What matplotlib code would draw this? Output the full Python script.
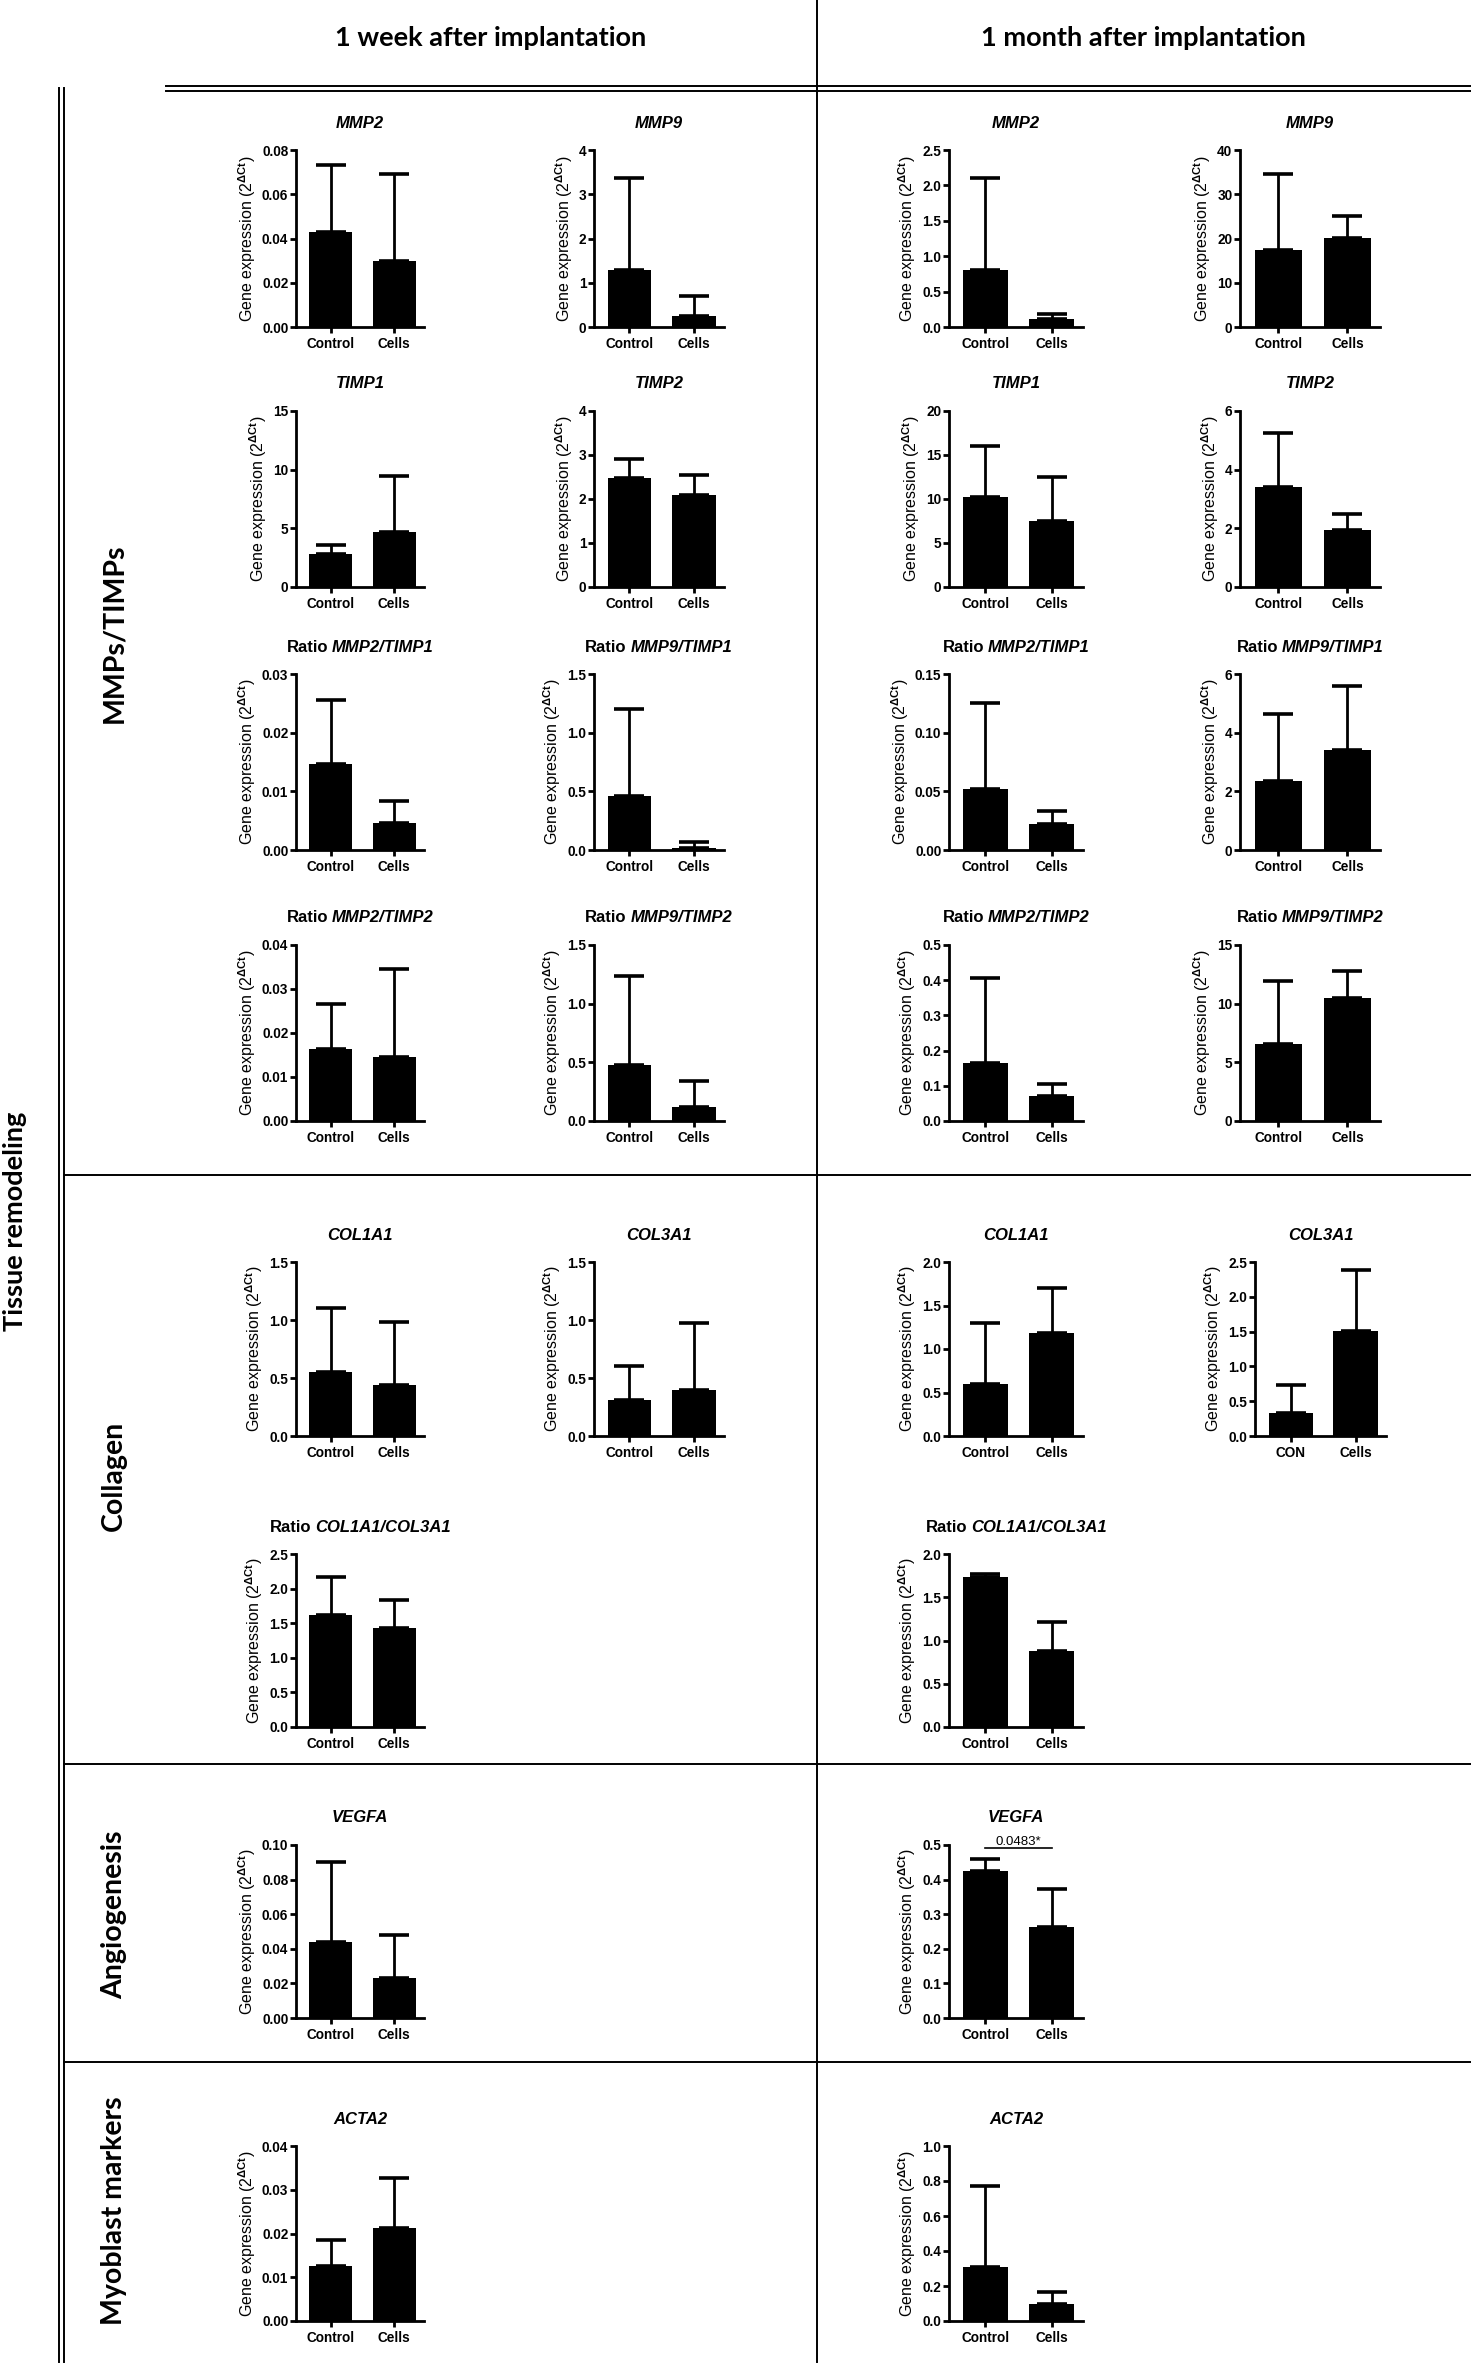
import matplotlib
matplotlib.use("Agg")
import matplotlib.pyplot as plt
from matplotlib.lines import Line2D
from matplotlib.ticker import FormatStrFormatter
import numpy as np

W, H = 1471, 2366

plt.rcParams.update({
    "font.family": ["Liberation Sans", "DejaVu Sans"],
    "font.weight": "bold",
    "mathtext.fontset": "custom",
    "mathtext.rm": "Liberation Sans:bold",
    "mathtext.it": "Liberation Sans:bold:italic",
    "mathtext.bf": "Liberation Sans:bold",
    "mathtext.default": "rm",
})

# ---------------- data ----------------
panel_prefix = ["", "", "", "",
                "", "", "", "",
                "Ratio", "Ratio", "Ratio", "Ratio",
                "Ratio", "Ratio", "Ratio", "Ratio",
                "", "", "", "",
                "Ratio", "Ratio",
                "", "",
                "", ""]
panel_gene = ["MMP2", "MMP9", "MMP2", "MMP9",
              "TIMP1", "TIMP2", "TIMP1", "TIMP2",
              "MMP2/TIMP1", "MMP9/TIMP1", "MMP2/TIMP1", "MMP9/TIMP1",
              "MMP2/TIMP2", "MMP9/TIMP2", "MMP2/TIMP2", "MMP9/TIMP2",
              "COL1A1", "COL3A1", "COL1A1", "COL3A1",
              "COL1A1/COL3A1", "COL1A1/COL3A1",
              "VEGFA", "VEGFA",
              "ACTA2", "ACTA2"]
control_label = ["Control"] * 19 + ["CON"] + ["Control"] * 6
cells_label = ["Cells"] * 26

control_mean = [0.043, 1.28, 0.81, 17.5,
                2.8, 2.48, 10.2, 3.4,
                0.0147, 0.46, 0.052, 2.35,
                0.0163, 0.48, 0.165, 6.6,
                0.55, 0.31, 0.60, 0.33,
                1.62, 1.73,
                0.044, 0.425,
                0.0125, 0.31]
control_sd = [0.030, 2.09, 1.30, 17.0,
              0.75, 0.42, 5.8, 1.85,
              0.0108, 0.74, 0.073, 2.28,
              0.0104, 0.76, 0.242, 5.35,
              0.55, 0.29, 0.70, 0.40,
              0.55, 0.04,
              0.046, 0.035,
              0.0061, 0.46]
cells_mean = [0.030, 0.25, 0.12, 20.2,
              4.7, 2.10, 7.5, 1.95,
              0.0046, 0.02, 0.022, 3.42,
              0.0145, 0.12, 0.070, 10.5,
              0.44, 0.40, 1.18, 1.51,
              1.43, 0.88,
              0.023, 0.262,
              0.0213, 0.10]
cells_sd = [0.039, 0.44, 0.06, 4.9,
            4.8, 0.44, 5.0, 0.55,
            0.0038, 0.045, 0.011, 2.18,
            0.020, 0.22, 0.035, 2.25,
            0.54, 0.57, 0.52, 0.88,
            0.40, 0.33,
            0.025, 0.11,
            0.0114, 0.065]
y_max = [0.08, 4, 2.5, 40,
         15, 4, 20, 6,
         0.03, 1.5, 0.15, 6,
         0.04, 1.5, 0.5, 15,
         1.5, 1.5, 2.0, 2.5,
         2.5, 2.0,
         0.10, 0.5,
         0.04, 1.0]
y_step = [0.02, 1, 0.5, 10,
          5, 1, 5, 2,
          0.01, 0.5, 0.05, 2,
          0.01, 0.5, 0.1, 5,
          0.5, 0.5, 0.5, 0.5,
          0.5, 0.5,
          0.02, 0.1,
          0.01, 0.2]
y_decimals = [2, 0, 1, 0,
              0, 0, 0, 0,
              2, 1, 2, 0,
              2, 1, 1, 0,
              1, 1, 1, 1,
              1, 1,
              2, 1,
              2, 1]
pvalue_text = "0.0483*"
pvalue_panel = 23
pvalue_y = 0.49

# ---------------- layout ----------------
slots = [(1, 1), (1, 2), (1, 3), (1, 4),
         (2, 1), (2, 2), (2, 3), (2, 4),
         (3, 1), (3, 2), (3, 3), (3, 4),
         (4, 1), (4, 2), (4, 3), (4, 4),
         (5, 1), (5, 2), (5, 3), (5, 4),
         (6, 1), (6, 3),
         (7, 1), (7, 3),
         (8, 1), (8, 3)]
row_bounds = {1: (150, 327), 2: (411, 587), 3: (674, 850), 4: (945, 1121),
              5: (1262, 1436), 6: (1554, 1727), 7: (1845, 2018), 8: (2146, 2321)}
col_bounds = {1: (296, 128), 2: (594, 130), 3: (949, 134), 4: (1240, 140)}

fig = plt.figure(figsize=(W / 100, H / 100), dpi=100)


def fx(x):
    return x / W


def fy(y):
    return 1 - y / H


renderer = fig.canvas.get_renderer()

for i in range(len(panel_gene)):
    r, c = slots[i]
    top, bot = row_bounds[r]
    left, width = col_bounds[c]
    if (r, c) == (5, 4):
        left, width = 1255, 131
    ax = fig.add_axes([fx(left), fy(bot), width / W, (bot - top) / H])
    xs = [0, 1]
    means = [control_mean[i], cells_mean[i]]
    sds = [control_sd[i], cells_sd[i]]
    ax.bar(xs, means, width=0.68, color="black", edgecolor="black",
           linewidth=0, zorder=2)
    ax.errorbar(xs, means, yerr=[[0, 0], sds], fmt="none", ecolor="black",
                elinewidth=2.0, capsize=11, capthick=2.6, zorder=3)
    ax.set_xlim(-0.55, 1.47)
    ax.set_ylim(0, y_max[i])
    ax.set_yticks(np.arange(0, y_max[i] + y_step[i] / 2, y_step[i]))
    ax.yaxis.set_major_formatter(FormatStrFormatter("%%.%df" % y_decimals[i]))
    ax.set_xticks(xs)
    ax.set_xticklabels([control_label[i], cells_label[i]])
    for s in ("top", "right"):
        ax.spines[s].set_visible(False)
    for s in ("left", "bottom"):
        ax.spines[s].set_linewidth(2.0)
    ax.tick_params(axis="y", length=4, width=2, labelsize=9.8, pad=1.5)
    ax.tick_params(axis="x", length=4, width=2, labelsize=9.8, pad=3)
    ax.set_ylabel(r"Gene expression (2$^{\Delta Ct}$)", fontsize=11.5,
                  labelpad=3)

    # title
    cx = left + width / 2
    ty = top - 27
    if panel_prefix[i]:
        t1 = fig.text(0, fy(ty), panel_prefix[i], fontsize=12, fontweight="bold",
                      ha="left", va="center")
        t2 = fig.text(0, fy(ty), panel_gene[i], fontsize=12, fontweight="bold",
                      style="italic", ha="left", va="center")
        w1 = t1.get_window_extent(renderer).width
        w2 = t2.get_window_extent(renderer).width
        gap = 4
        x0 = cx - (w1 + gap + w2) / 2
        t1.set_x(fx(x0))
        t2.set_x(fx(x0 + w1 + gap))
    else:
        fig.text(fx(cx), fy(ty), panel_gene[i], fontsize=12, fontweight="bold",
                 style="italic", ha="center", va="center")

    if i == pvalue_panel:
        ax.plot(xs, [pvalue_y, pvalue_y], color="black", lw=1.2,
                clip_on=False, zorder=4)
        ax.text(0.5, pvalue_y, pvalue_text, ha="center", va="bottom",
                fontsize=9.5, fontweight="normal", clip_on=False)

# ---------------- frame lines ----------------
def hline(y, x0, x1, lw=1.4):
    fig.add_artist(Line2D([fx(x0), fx(x1)], [fy(y), fy(y)], color="black",
                          lw=lw, transform=fig.transFigure))


def vline(x, y0, y1, lw=1.4):
    fig.add_artist(Line2D([fx(x), fx(x)], [fy(y0), fy(y1)], color="black",
                          lw=lw, transform=fig.transFigure))


vline(817, 0, 2362)
hline(86, 166, W)
hline(91, 166, W)
vline(59, 88, 2362)
vline(64, 88, 2362)
for yy in (1175, 1764, 2062):
    hline(yy, 64, W)

# ---------------- headers ----------------
hdr = dict(fontsize=19.5, fontweight="bold", family=["Lato", "DejaVu Sans"],
           ha="center", va="center")
fig.text(fx(491), fy(38), "1 week after implantation", **hdr)
fig.text(fx(1143), fy(38), "1 month after implantation", **hdr)

sec = dict(fontsize=20.5, fontweight="bold", family=["Lato", "DejaVu Sans"],
           ha="center", va="center", rotation=90)
fig.text(fx(15), fy(1221), "Tissue remodeling",
         **{**sec, "fontsize": 19.5})
fig.text(fx(114), fy(633), "MMPs/TIMPs", **sec)
fig.text(fx(114), fy(1476), "Collagen", **sec)
fig.text(fx(114), fy(1915), "Angiogenesis", **sec)
fig.text(fx(114), fy(2211), "Myoblast markers", **sec)

fig.savefig("out.png", dpi=100, facecolor="white")
